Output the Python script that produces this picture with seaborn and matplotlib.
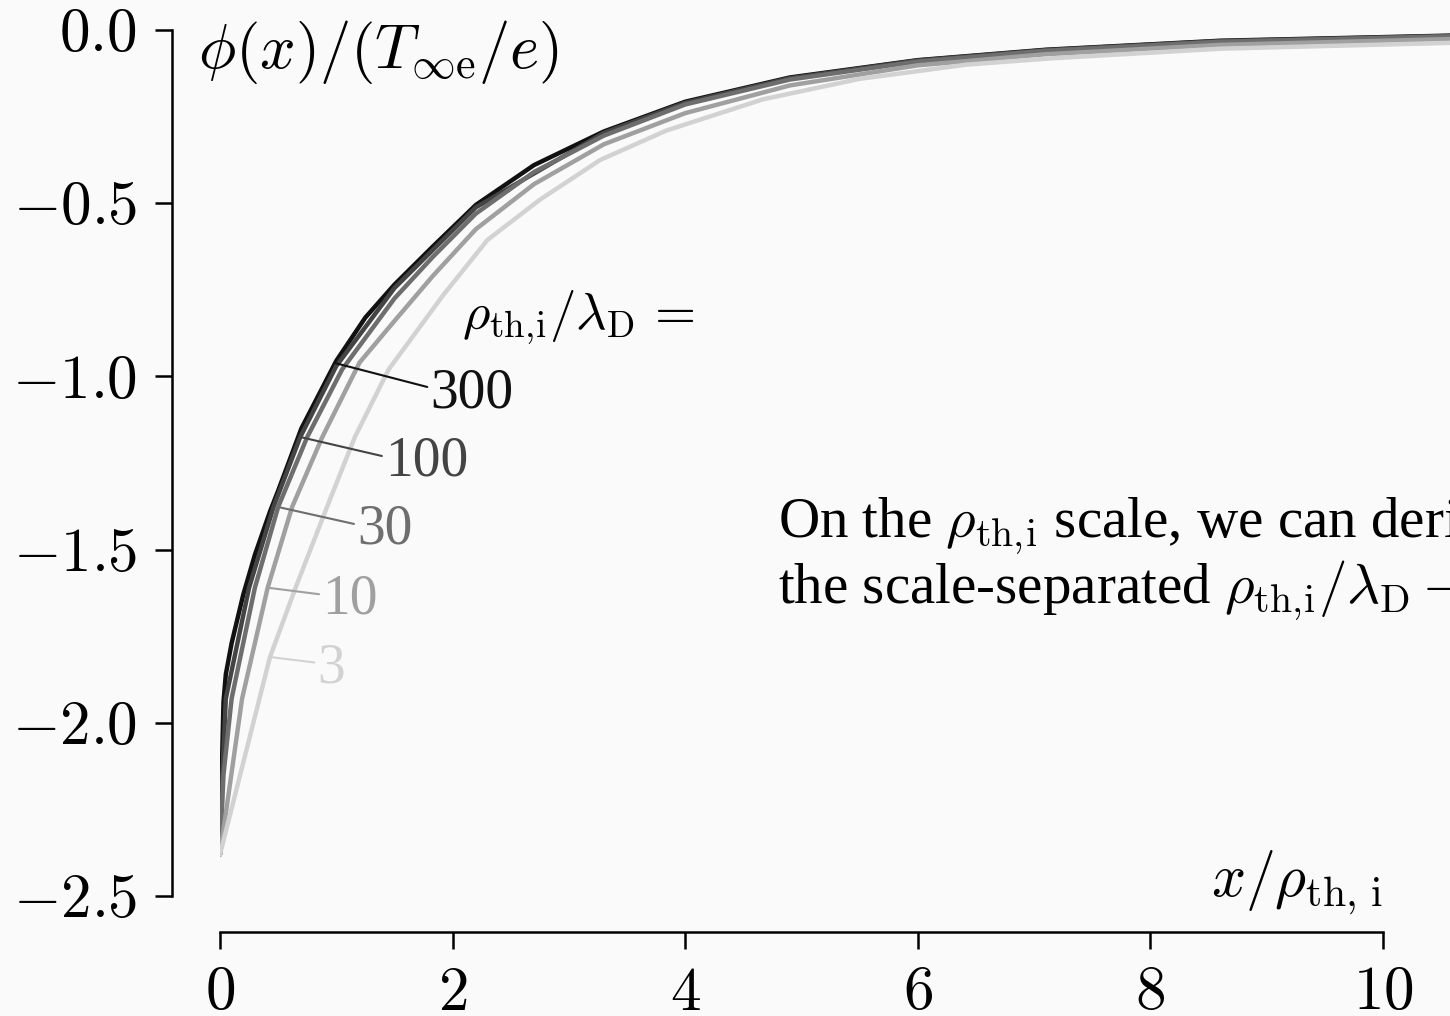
import numpy as np
import pandas as pd
import matplotlib
matplotlib.use("Agg")
import matplotlib.pyplot as plt
import seaborn as sns

# Potential profiles phi(x)/(T_inf,e/e) against x/rho_th,i for several rho_th,i/lambda_D
ratios = [300, 100, 30, 10, 3]

x_300 = [0, 0.01, 0.03, 0.05, 0.1, 0.2, 0.3, 0.43, 0.5, 0.7, 1.0, 1.25, 1.5, 1.83,
         2.2, 2.7, 3.3, 4.0, 4.9, 6.0, 7.1, 8.6, 10.6]
phi_300 = [-2.38, -2.22, -1.94, -1.86, -1.77, -1.63, -1.515, -1.39, -1.33, -1.15,
           -0.955, -0.83, -0.735, -0.625, -0.505, -0.39, -0.293, -0.207, -0.137,
           -0.087, -0.057, -0.031, -0.016]

x_100 = [0, 0.015, 0.05, 0.25, 0.46, 0.69, 1.0, 1.5, 2.2, 3.3, 4.0, 4.9, 6.0, 7.1,
         8.6, 10.6]
phi_100 = [-2.38, -2.2, -1.93, -1.61, -1.377, -1.175, -0.97, -0.745, -0.512, -0.297,
           -0.21, -0.139, -0.088, -0.058, -0.032, -0.017]

x_30 = [0, 0.03, 0.10, 0.30, 0.50, 0.75, 1.05, 1.5, 1.83, 2.2, 2.7, 3.3, 4.0, 4.9,
        6.0, 7.1, 8.6, 10.6]
phi_30 = [-2.38, -2.15, -1.93, -1.61, -1.377, -1.175, -0.98, -0.775, -0.655, -0.53,
          -0.41, -0.305, -0.215, -0.143, -0.091, -0.06, -0.034, -0.018]

x_10 = [0, 0.19, 0.41, 0.62, 0.88, 1.2, 1.5, 1.83, 2.2, 2.7, 3.3, 4.0, 4.9, 6.0,
        7.1, 8.6, 10.6]
phi_10 = [-2.38, -1.93, -1.61, -1.377, -1.175, -0.96, -0.84, -0.71, -0.575, -0.445,
          -0.33, -0.24, -0.16, -0.102, -0.07, -0.043, -0.026]

x_3 = [0, 0.43, 0.65, 0.92, 1.16, 1.45, 1.92, 2.3, 2.75, 3.27, 3.84, 4.67, 5.5,
       6.42, 7.14, 8.6, 10.6]
phi_3 = [-2.38, -1.81, -1.61, -1.377, -1.175, -0.98, -0.765, -0.606, -0.49, -0.375,
         -0.29, -0.20, -0.141, -0.10, -0.082, -0.054, -0.037]

curve_x = [x_300, x_100, x_30, x_10, x_3]
curve_phi = [phi_300, phi_100, phi_30, phi_10, phi_3]

shades = ["#111111", "#444444", "#6e6e6e", "#a0a0a0", "#d2d2d2"]

# Inline labels: where each leader touches its curve, and where the number sits
leader_x = [0.99, 0.69, 0.50, 0.41, 0.43]
label_x = [1.81, 1.42, 1.18, 0.88, 0.84]
label_y = [-1.048, -1.247, -1.443, -1.645, -1.842]
label_text = ["300", "100", "30", "10", "3"]

x_ticks = [0, 2, 4, 6, 8, 10]
x_ticklabels = [r"$0$", r"$2$", r"$4$", r"$6$", r"$8$", r"$10$"]
y_ticks = [0.0, -0.5, -1.0, -1.5, -2.0, -2.5]
y_ticklabels = [r"$0.0$", r"$-0.5$", r"$-1.0$", r"$-1.5$", r"$-2.0$", r"$-2.5$"]

frames = []
for r, xs, ps in zip(ratios, curve_x, curve_phi):
    frames.append(pd.DataFrame({"x": xs, "phi": ps, "ratio": r}))
df = pd.concat(frames, ignore_index=True)

bg = "#fafafa"
ink = "#000000"
sns.set_theme(style="ticks", rc={"figure.facecolor": bg, "axes.facecolor": bg,
                                 "text.color": ink, "axes.labelcolor": ink})
plt.rcParams["font.family"] = ["Liberation Serif", "DejaVu Serif"]
plt.rcParams["mathtext.fontset"] = "cm"

W, H, DPI = 1450, 1016, 100
fig = plt.figure(figsize=(W / DPI, H / DPI), dpi=DPI)
fig.patch.set_facecolor(bg)

# x = 0 sits at 220 px and x = 10 at 1383 px; y = 0 at 30 px, y = -2.5 at 896 px
px_per_x = (1383 - 220) / 10.0
ax = fig.add_axes([220 / W, (H - 896) / H, (W - 220) / W, (896 - 30) / H])
ax.set_facecolor(bg)

sns.lineplot(data=df, x="x", y="phi", hue="ratio", hue_order=ratios,
             palette=dict(zip(ratios, shades)), estimator=None, sort=False,
             linewidth=3.2, legend=False, ax=ax)

ax.set_xlim(0, (W - 220) / px_per_x)
ax.set_ylim(-2.5, 0.0)

# Offset, bounded spines
for side in ("top", "right"):
    ax.spines[side].set_visible(False)
ax.spines["left"].set_position(("outward", 48 * 72 / DPI))
ax.spines["bottom"].set_position(("outward", 36 * 72 / DPI))
ax.spines["left"].set_bounds(-2.5, 0.0)
ax.spines["bottom"].set_bounds(0, 10)
for side in ("left", "bottom"):
    ax.spines[side].set_linewidth(1.8)
    ax.spines[side].set_color(ink)

ax.set_xticks(x_ticks)
ax.set_xticklabels(x_ticklabels)
ax.set_yticks(y_ticks)
ax.set_yticklabels(y_ticklabels)
ax.tick_params(axis="both", length=12.2, width=1.8, labelsize=44, colors=ink)
ax.tick_params(axis="y", pad=13)
ax.tick_params(axis="x", pad=13)
ax.set_xlabel("")
ax.set_ylabel("")

# Axis titles placed inside the plotting area
ax.text(-0.19, -0.064, r"$\phi(x)/(T_{\infty\mathrm{e}}/e)$", fontsize=45,
        color=ink, ha="left", va="center", clip_on=False)
ax.text(10.0, -2.503, r"$x/\rho_{\mathrm{th,\,i}}$", fontsize=43, color=ink,
        ha="right", va="baseline", clip_on=False)

# Inline curve labels with leader lines
ax.text(2.08, -0.83, r"$\rho_{\mathrm{th,\!i}}/\lambda_{\mathrm{D}}\,=$", fontsize=38,
        color=ink, ha="left", va="center")
for xs, ps, lx, tx, ty, txt, c in zip(curve_x, curve_phi, leader_x, label_x,
                                        label_y, label_text, shades):
    y_on = float(np.interp(lx, xs, ps))
    ax.annotate(txt, xy=(lx, y_on), xytext=(tx, ty), fontsize=40, color=c,
                ha="left", va="center",
                arrowprops=dict(arrowstyle="-", color=c, lw=1.5,
                                shrinkA=0, shrinkB=0, relpos=(0, 0.6)))

# Explanatory note running off the right edge
ax.text(4.80, -1.464, r"On the $\rho_{\mathrm{th,\!i}}$ scale, we can derive",
        fontsize=41, color=ink, ha="left", va="baseline", clip_on=False)
ax.text(4.80, -1.654,
        r"the scale-separated $\rho_{\mathrm{th,\!i}}/\lambda_{\mathrm{D}} \to \infty$ limit",
        fontsize=41, color=ink, ha="left", va="baseline", clip_on=False)

fig.savefig("out.png", dpi=DPI, facecolor=bg)
